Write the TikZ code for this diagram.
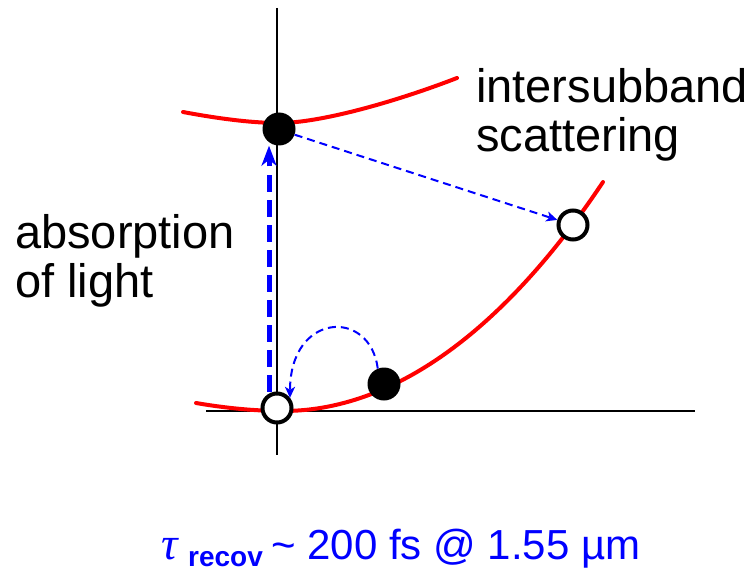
\documentclass[tikz,border=0pt]{standalone}
\usepackage{fontspec}
\setmainfont{Liberation Sans}
\newfontfamily\serifgr{Liberation Serif}
\usetikzlibrary{arrows.meta,calc}
\begin{document}
\begin{tikzpicture}[x=1pt,y=-1pt,
  axisline/.style={line width=2pt,black},
  band/.style={line width=4pt,red,line cap=round},
  fdot/.style={circle,fill=black,inner sep=0pt,minimum size=33pt},
  odot/.style={circle,draw=black,fill=white,line width=4pt,inner sep=0pt,minimum size=29pt},
  thickarr/.style={blue,line width=5pt,dash pattern=on 17pt off 8pt,-{Stealth[length=20pt,width=15pt,inset=6pt]}},
  thinarr/.style={blue,line width=2pt,dash pattern=on 8pt off 5pt,-{Stealth[length=11pt,width=10pt,inset=3pt]}},
  lbl/.style={anchor=base west,inner sep=0pt,font=\fontsize{47}{50}\selectfont},
]
\useasboundingbox (0,0) rectangle (754,572);
% axes
\coordinate (vt) at (277,8);
\coordinate (vb) at (277,455);
\coordinate (hl) at (206,411);
\coordinate (hr) at (695,411);
\draw[axisline] (vt) -- (vb);
\draw[axisline] (hl) -- (hr);
% bands
\draw[band] (183,112) .. controls (215,118) and (250,123) .. (279,123)
  .. controls (320,123) and (395,102) .. (457,78);
\draw[band] (196,403) .. controls (225,408) and (255,411) .. (283,411)
  .. controls (403,411) and (513,317) .. (603,182);
% particles
\node[fdot] (e1) at (279,129) {};
\node[fdot] (e2) at (384,384) {};
\node[odot] (h1) at (277,408) {};
\node[odot] (h2) at (573,225) {};
% arrows
\draw[thickarr] ([xshift=-8pt]h1.north) -- ([xshift=-10pt]e1.south);
\draw[thinarr] (e1.-20) -- (h2);
\draw[thinarr] (e2.112) .. controls (370,308) and (290,312) .. (h1.38);
% labels
\node[lbl] (t1) at (476,103) {intersubband};
\node[lbl] (t2) at (476,152) {scattering};
\node[lbl] (t3) at (15,248) {absorption};
\node[lbl] (t4) at (15,297) {of light};
\node[anchor=base west,inner sep=0pt,text=blue,font=\serifgr\itshape\fontsize{46}{48}\selectfont] (tau) at (161,559) {τ};
\node[anchor=base west,inner sep=0pt,text=blue,font=\bfseries\fontsize{28}{30}\selectfont] (sub) at (188,566) {recov};
\node[anchor=base west,inner sep=0pt,text=blue,font=\fontsize{42}{44}\selectfont] (rest) at (271,559) {\char"007E{} 200 fs @ 1.55 µm};
\end{tikzpicture}
\end{document}
